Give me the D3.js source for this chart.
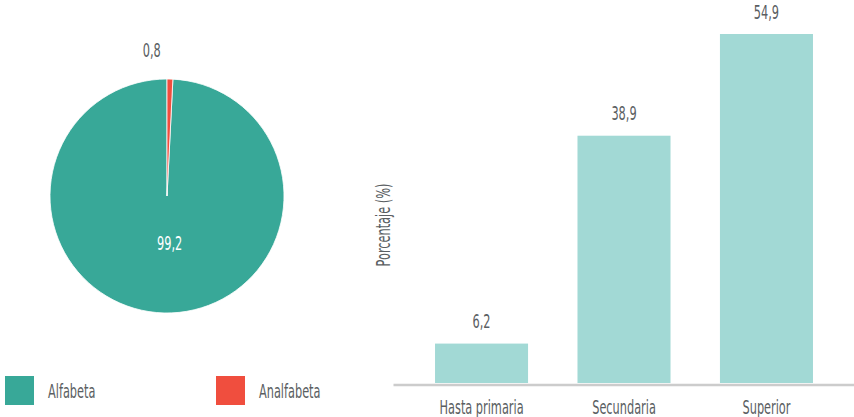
<!DOCTYPE html>
<html><head><meta charset="utf-8">
<script src="https://cdn.jsdelivr.net/npm/d3@7"></script>
<style>
body{margin:0;background:#fff;}
text{font-family:"DejaVu Sans Condensed","DejaVu Sans",sans-serif;fill:#5a5e62;}
</style></head>
<body>
<svg id="c" width="854" height="417"></svg>
<script>
const pieCategories = ["Alfabeta", "Analfabeta"];
const pieValues = [99.2, 0.8];
const pieLabels = ["99,2", "0,8"];
const pieColors = ["#38a898", "#f04e3e"];

const barCategories = ["Hasta primaria", "Secundaria", "Superior"];
const barValues = [6.2, 38.9, 54.9];
const barLabels = ["6,2", "38,9", "54,9"];
const barColor = "#a2d9d5";
const yTitle = "Porcentaje (%)";

const svg = d3.select("#c");
const fs = 20;
const sx = 0.63;

function addText(x, y, str, anchor, color, rot) {
  const t = svg.append("text")
    .attr("transform", `translate(${x},${y})` + (rot ? ` rotate(${rot})` : "") + ` scale(${sx},1)`)
    .attr("text-anchor", anchor || "middle").attr("dy", "0.36em")
    .attr("font-size", fs).text(str);
  if (color) t.style("fill", color);
  return t;
}

// Pie
const cx = 167, cy = 196, r = 117;
const off = 2 * Math.PI * 0.008;
const pie = d3.pie().sort(null).startAngle(off).endAngle(2 * Math.PI + off);
const arcs = pie(pieValues);
const arc = d3.arc().innerRadius(0).outerRadius(r);
const g = svg.append("g").attr("transform", `translate(${cx},${cy})`);
g.selectAll("path").data(arcs).enter().append("path")
  .attr("d", arc).attr("fill", (d, i) => pieColors[i])
  .attr("stroke", "#fff").attr("stroke-width", 0.8);
const inArc = d3.arc().innerRadius(r * 0.8).outerRadius(r * 0.8);
const outArc = d3.arc().innerRadius(r * 1.26).outerRadius(r * 1.26);
const c0 = inArc.centroid(arcs[0]);
addText(cx + c0[0] + 5, cy + c0[1] * 0.5, pieLabels[0], "middle", "#fff");
const c1 = outArc.centroid(arcs[1]);
addText(cx + c1[0] - 19, cy + c1[1] + 1, pieLabels[1], "middle");

// Legend
const legX = [5, 216];
pieCategories.forEach((c, i) => {
  svg.append("rect").attr("x", legX[i]).attr("y", 376).attr("width", 29).attr("height", 29).attr("fill", pieColors[i]);
  addText(legX[i] + 43, 390.5, c, "start");
});

// Bars
const x = d3.scaleBand().domain(barCategories).range([393, 855]).paddingInner(0.347).paddingOuter(0.295);
const y = d3.scaleLinear().domain([0, 54.9]).range([383, 34]);
svg.selectAll(".bar").data(barValues).enter().append("rect")
  .attr("x", (d, i) => x(barCategories[i])).attr("width", x.bandwidth())
  .attr("y", d => y(d)).attr("height", d => y(0) - y(d)).attr("fill", barColor);
barValues.forEach((d, i) => {
  addText(x(barCategories[i]) + x.bandwidth() / 2, y(d) - 22.5, barLabels[i], "middle");
});
const ax = svg.append("g").attr("transform", "translate(0,384.5)")
  .call(d3.axisBottom(x).tickSize(0).tickFormat(""));
ax.select(".domain").attr("stroke", "#cccccc").attr("stroke-width", 2.5);
ax.selectAll(".tick").each(function(d) {
  addText(x(d) + x.bandwidth() / 2, 406.5, d, "middle");
});
addText(383, 225, yTitle, "middle", null, -90);
</script></body></html>
